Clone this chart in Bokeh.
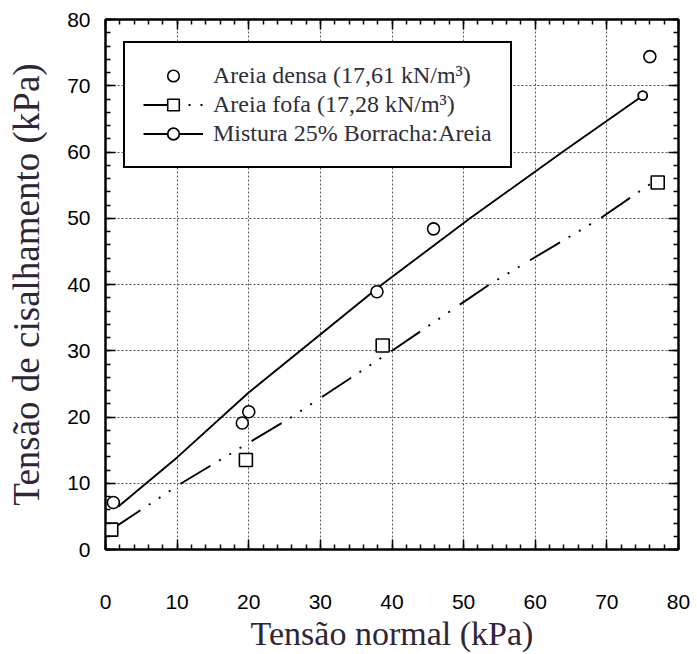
from bokeh.plotting import figure
from bokeh.models import (LinearAxis, SingleIntervalTicker, Legend, LegendItem,
                          CustomJSTickFormatter, Range1d)
from bokeh.embed import file_html
from bokeh.resources import INLINE

# ---- data ----
densa_x = [1.1, 19.1, 20.0, 37.9, 45.8, 76.0]
densa_y = [7.1, 19.1, 20.8, 38.9, 48.4, 74.4]

fofa_x = [0.8, 19.6, 38.7, 77.1]
fofa_y = [3.0, 13.5, 30.8, 55.4]

fofa_fit_x = [0.8, 10.6, 26.0, 40.0, 53.6, 69.1, 76.1]
fofa_fit_y = [3.0, 10.0, 20.0, 30.0, 40.0, 50.0, 55.2]

mist_fit_x = [1.8, 10.0, 20.0, 38.6, 50.9, 63.8, 75.0]
mist_fit_y = [6.5, 13.9, 23.7, 40.0, 50.0, 60.0, 68.5]

mist_pts_x = [75.0]
mist_pts_y = [68.5]

labels = ["Areia densa (17,61 kN/m³)",
          "Areia fofa (17,28 kN/m³)",
          "Mistura 25% Borracha:Areia"]

x_title = "Tensão normal (kPa)"
y_title = "Tensão de cisalhamento (kPa)"

SERIF = "Liberation Serif"
SANS = "Liberation Sans"

# ---- figure ----
p = figure(width=697, height=654, output_backend="svg", toolbar_location=None,
           x_range=Range1d(0, 80), y_range=Range1d(0, 80),
           x_axis_label=x_title, y_axis_label=y_title,
           min_border_left=105, min_border_right=19,
           min_border_top=19, min_border_bottom=104,
           background_fill_color="white", border_fill_color="white")
p.outline_line_color = "black"
p.outline_line_width = 2

xt = SingleIntervalTicker(interval=10, num_minor_ticks=5)
yt = SingleIntervalTicker(interval=10, num_minor_ticks=5)
p.xaxis.ticker = xt
p.yaxis.ticker = yt

for ax in (p.xaxis[0], p.yaxis[0]):
    ax.major_tick_in = 10
    ax.major_tick_out = 0
    ax.minor_tick_in = 5
    ax.minor_tick_out = 0
    ax.major_tick_line_width = 1.5
    ax.minor_tick_line_width = 1.5
    ax.axis_line_width = 2
    ax.major_label_text_font = SANS
    ax.major_label_text_font_size = "21px"
    ax.major_label_text_color = "#000000"
    ax.axis_label_text_font = SERIF
    ax.axis_label_text_font_style = "normal"
    ax.axis_label_text_color = "#2f2536"

p.xaxis.major_label_standoff = 45
p.xaxis.axis_label_standoff = 3
p.xaxis.axis_label_text_font_size = "34px"
p.yaxis.major_label_standoff = 15
p.yaxis.axis_label_standoff = 17
p.yaxis.axis_label_text_font_size = "37px"

blank = CustomJSTickFormatter(code="return '';")
top = LinearAxis(ticker=SingleIntervalTicker(interval=10, num_minor_ticks=5), formatter=blank)
right = LinearAxis(ticker=SingleIntervalTicker(interval=10, num_minor_ticks=5), formatter=blank)
for ax in (top, right):
    ax.major_tick_in = 10
    ax.major_tick_out = 0
    ax.minor_tick_in = 5
    ax.minor_tick_out = 0
    ax.major_tick_line_width = 1.5
    ax.minor_tick_line_width = 1.5
    ax.axis_line_width = 2
    ax.major_label_standoff = 0
p.add_layout(top, "above")
p.add_layout(right, "right")

p.xgrid.ticker = xt
p.ygrid.ticker = yt
for g in (p.xgrid[0], p.ygrid[0]):
    g.grid_line_color = "#555555"
    g.grid_line_dash = "2 2"
    g.grid_line_width = 1

# ---- glyphs ----
mist_line = p.line(mist_fit_x, mist_fit_y, line_color="black", line_width=1.9)
mist_pts = p.scatter(mist_pts_x, mist_pts_y, marker="circle", size=9,
                     fill_color="white", line_color="black", line_width=1.8)

fofa_line = p.line(fofa_fit_x, fofa_fit_y, line_color="black", line_width=1.9,
                   line_dash="35 10 2 10 2 10 2 12")
fofa_pts = p.scatter(fofa_x, fofa_y, marker="square", size=13,
                     fill_color="white", line_color="black", line_width=1.6)

densa_pts = p.scatter(densa_x, densa_y, marker="circle", size=12,
                      fill_color="white", line_color="black", line_width=1.6)

legend = Legend(items=[
    LegendItem(label=labels[0], renderers=[densa_pts]),
    LegendItem(label=labels[1], renderers=[fofa_line, fofa_pts]),
    LegendItem(label=labels[2], renderers=[mist_line, mist_pts]),
], location=(18, 381))
legend.margin = 0
legend.padding = 18
legend.spacing = 0
legend.glyph_width = 60
legend.glyph_height = 29
legend.label_standoff = 10
legend.label_text_font = SERIF
legend.label_text_font_size = "24px"
legend.label_text_color = "#2e2e3a"
legend.border_line_color = "black"
legend.border_line_alpha = 1.0
legend.border_line_width = 2
legend.background_fill_color = "white"
legend.background_fill_alpha = 1.0
p.add_layout(legend, "center")

open("out.html", "w").write(file_html(p, INLINE))
